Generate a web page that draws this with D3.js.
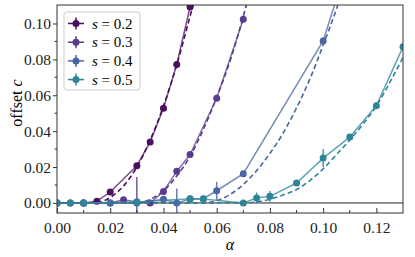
<!DOCTYPE html>
<html>
<head>
<meta charset="utf-8">
<script src="https://cdn.jsdelivr.net/npm/d3@7/dist/d3.min.js"></script>
<style>
  html, body { margin: 0; padding: 0; background: #fff; }
</style>
</head>
<body>
<div id="chart"></div>
<script>
// ── data ──
const sLabels = ['0.2', '0.3', '0.4', '0.5'];
const colors = ['#4b0f5e', '#5a3b8d', '#4a66a1', '#2f8598'];

// measured points (alpha, offset c, error)
const alphaS02 = [0, 0.005, 0.01, 0.015, 0.02, 0.03, 0.035, 0.04, 0.045, 0.05];
const offsetS02 = [0, 0, 0, 0.001, 0.0061, 0.0207, 0.034, 0.0528, 0.0772, 0.1092];
const errS02 = [0, 0, 0, 0, 0.0008, 0.001, 0.001, 0.0012, 0.0012, 0.0015];

const alphaS03 = [0, 0.01, 0.02, 0.025, 0.03, 0.035, 0.04, 0.045, 0.05, 0.06, 0.07];
const offsetS03 = [0, 0, 0, 0.0018, 0.0005, 0, 0.0064, 0.0176, 0.027, 0.0583, 0.1024];
const errS03 = [0, 0, 0, 0.0008, 0.014, 0.0005, 0.001, 0.0012, 0.001, 0.0015, 0.0015];

const alphaS04 = [0, 0.01, 0.02, 0.03, 0.04, 0.045, 0.05, 0.055, 0.06, 0.07, 0.10, 0.11];
const offsetS04 = [0, 0, 0, 0, 0.002, 0, 0.0022, 0.0024, 0.0068, 0.0163, 0.0903, 0.137];
const errS04 = [0, 0, 0, 0, 0.001, 0.008, 0.001, 0.001, 0.005, 0.001, 0.002, 0.002];

const alphaS05 = [0, 0.005, 0.01, 0.03, 0.05, 0.055, 0.07, 0.075, 0.08, 0.09, 0.10, 0.11, 0.12, 0.13];
const offsetS05 = [0, 0, 0, 0.0005, 0.0024, 0.0022, 0, 0.0028, 0.0037, 0.0111, 0.025, 0.0367, 0.0542, 0.087];
const errS05 = [0, 0, 0, 0.0005, 0.001, 0.001, 0.0005, 0.003, 0.003, 0.001, 0.005, 0.001, 0.0015, 0.002];

// dashed fit curves
const fitAlphaS02 = [0, 0.014, 0.02, 0.025, 0.03, 0.035, 0.04, 0.045, 0.05, 0.052];
const fitOffsetS02 = [0, 0, 0.003, 0.0095, 0.02, 0.035, 0.054, 0.077, 0.104, 0.115];
const fitAlphaS03 = [0, 0.03, 0.035, 0.04, 0.045, 0.05, 0.055, 0.06, 0.065, 0.07, 0.072];
const fitOffsetS03 = [0, 0, 0.002, 0.0068, 0.015, 0.026, 0.041, 0.059, 0.079, 0.104, 0.115];
const fitAlphaS04 = [0, 0.055, 0.06, 0.065, 0.07, 0.075, 0.08, 0.085, 0.09, 0.095, 0.10, 0.105, 0.107];
const fitOffsetS04 = [0, 0, 0.0013, 0.0047, 0.0103, 0.018, 0.0276, 0.039, 0.053, 0.069, 0.088, 0.108, 0.117];
const fitAlphaS05 = [0, 0.07, 0.075, 0.08, 0.085, 0.09, 0.095, 0.10, 0.105, 0.11, 0.115, 0.12, 0.125, 0.13];
const fitOffsetS05 = [0, 0, 0.0006, 0.002, 0.0045, 0.0075, 0.0125, 0.019, 0.027, 0.035, 0.044, 0.054, 0.067, 0.081];

const xTicks = [0, 0.02, 0.04, 0.06, 0.08, 0.10, 0.12];
const yTicks = [0, 0.02, 0.04, 0.06, 0.08, 0.10];

const series = [
  { a: alphaS02, c: offsetS02, e: errS02, fa: fitAlphaS02, fc: fitOffsetS02 },
  { a: alphaS03, c: offsetS03, e: errS03, fa: fitAlphaS03, fc: fitOffsetS03 },
  { a: alphaS04, c: offsetS04, e: errS04, fa: fitAlphaS04, fc: fitOffsetS04 },
  { a: alphaS05, c: offsetS05, e: errS05, fa: fitAlphaS05, fc: fitOffsetS05 }
];

const FONT = '"Liberation Serif", "Times New Roman", "DejaVu Serif", serif';

// ── layout ──
const W = 415, H = 257;
const margin = { top: 5, right: 12, bottom: 44, left: 57 };
const iw = W - margin.left - margin.right;
const ih = H - margin.top - margin.bottom;

const svg = d3.select('#chart').append('svg')
  .attr('width', W).attr('height', H);

const g = svg.append('g')
  .attr('transform', `translate(${margin.left},${margin.top})`);

const x = d3.scaleLinear().domain([0, 0.13]).range([0, iw]);
const y = d3.scaleLinear().domain([-0.0056, 0.1103]).range([ih, 0]);

g.append('defs').append('clipPath').attr('id', 'clip')
  .append('rect').attr('width', iw).attr('height', ih);

// 零线
g.append('line')
  .attr('x1', 0).attr('x2', iw)
  .attr('y1', y(0)).attr('y2', y(0))
  .attr('stroke', '#222').attr('stroke-width', 1);

const plot = g.append('g').attr('clip-path', 'url(#clip)');

const line = d3.line()
  .x(d => x(d[0]))
  .y(d => y(d[1]));
const curve = d3.line()
  .x(d => x(d[0]))
  .y(d => y(d[1]))
  .curve(d3.curveMonotoneX);

series.forEach((s, i) => {
  const col = colors[i];
  const pts = s.a.map((a, j) => [a, s.c[j], s.e[j]]);

  // solid connecting line
  plot.append('path')
    .datum(pts)
    .attr('d', line)
    .attr('fill', 'none')
    .attr('stroke', col)
    .attr('stroke-opacity', 0.75)
    .attr('stroke-width', 1.5);

  // error bars
  plot.selectAll(null)
    .data(pts.filter(d => d[2] > 0))
    .enter().append('line')
    .attr('x1', d => x(d[0])).attr('x2', d => x(d[0]))
    .attr('y1', d => y(d[1] - d[2])).attr('y2', d => y(d[1] + d[2]))
    .attr('stroke', col)
    .attr('stroke-opacity', 0.85)
    .attr('stroke-width', 1.5);

  // markers
  plot.selectAll(null)
    .data(pts)
    .enter().append('circle')
    .attr('cx', d => x(d[0])).attr('cy', d => y(d[1]))
    .attr('r', 3.5)
    .attr('fill', col);

  // dashed fit
  plot.append('path')
    .datum(s.fa.map((a, j) => [a, s.fc[j]]))
    .attr('d', curve)
    .attr('fill', 'none')
    .attr('stroke', col)
    .attr('stroke-width', 1.6)
    .attr('stroke-dasharray', '5,3');
});

// ── axes ──
const axisColor = '#333';

// x: ticks point inward
const xAxis = g.append('g').attr('transform', `translate(0,${ih})`)
  .call(d3.axisBottom(x).tickValues(xTicks).tickSizeInner(-5).tickSizeOuter(0)
    .tickFormat(d3.format('.2f')));
xAxis.select('.domain').remove();
xAxis.selectAll('line').attr('stroke', axisColor);
xAxis.selectAll('text').attr('y', 9).attr('fill', '#222')
  .style('font-family', FONT).style('font-size', '15.5px');
g.append('g').attr('transform', `translate(0,${ih})`)
  .selectAll('line')
  .data(d3.range(1, 13, 2).map(k => k / 100))
  .enter().append('line')
  .attr('x1', d => x(d)).attr('x2', d => x(d))
  .attr('y1', 0).attr('y2', -3)
  .attr('stroke', axisColor);

// y: ticks point outward
const yAxis = g.append('g')
  .call(d3.axisLeft(y).tickValues(yTicks).tickSize(4).tickSizeOuter(0)
    .tickFormat(d3.format('.2f')));
yAxis.select('.domain').remove();
yAxis.selectAll('line').attr('stroke', axisColor);
yAxis.selectAll('text').attr('x', -6).attr('fill', '#222')
  .style('font-family', FONT).style('font-size', '15.5px');
g.append('g')
  .selectAll('line')
  .data([0.01, 0.03, 0.05, 0.07, 0.09])
  .enter().append('line')
  .attr('x1', 0).attr('x2', -2.5)
  .attr('y1', d => y(d)).attr('y2', d => y(d))
  .attr('stroke', axisColor);

// frame
g.append('rect')
  .attr('width', iw).attr('height', ih)
  .attr('fill', 'none')
  .attr('stroke', axisColor).attr('stroke-width', 1);

// axis labels
svg.append('text')
  .attr('x', margin.left + iw / 2).attr('y', 250)
  .attr('text-anchor', 'middle')
  .style('font-family', FONT).style('font-size', '16px').style('font-style', 'italic')
  .text('α');

svg.append('text')
  .attr('transform', `translate(22,${margin.top + 98}) rotate(-90)`)
  .attr('text-anchor', 'middle')
  .style('font-family', FONT).style('font-size', '16px')
  .call(t => {
    t.append('tspan').text('offset ');
    t.append('tspan').style('font-style', 'italic').text('c');
  });

// ── legend ──
const lg = g.append('g').attr('transform', 'translate(7,7)');
lg.append('rect')
  .attr('width', 76).attr('height', 78).attr('rx', 3)
  .attr('fill', '#fff').attr('fill-opacity', 0.8)
  .attr('stroke', '#ccc').attr('stroke-width', 1);

sLabels.forEach((lab, i) => {
  const row = lg.append('g').attr('transform', `translate(0,${11.5 + i * 18.7})`);
  row.append('line')
    .attr('x1', 4).attr('x2', 20)
    .attr('stroke', colors[i]).attr('stroke-width', 1.5);
  row.append('line')
    .attr('x1', 12).attr('x2', 12).attr('y1', -6).attr('y2', 6)
    .attr('stroke', colors[i]).attr('stroke-width', 1.5);
  row.append('circle').attr('cx', 12).attr('r', 3.5).attr('fill', colors[i]);
  const t = row.append('text').attr('x', 28).attr('y', 5)
    .style('font-family', FONT).style('font-size', '15px');
  t.append('tspan').style('font-style', 'italic').text('s');
  t.append('tspan').text(' = ' + lab);
});
</script>
</body>
</html>
